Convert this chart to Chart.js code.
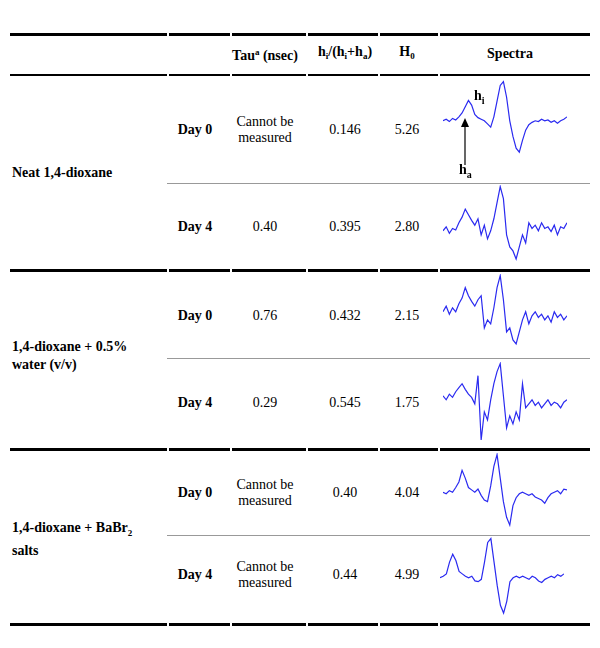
<!DOCTYPE html>
<html><head><meta charset="utf-8">
<script src="https://cdn.jsdelivr.net/npm/chart.js@4"></script>
<style>
body{margin:0;width:600px;height:648px;background:#fff;font-family:"Liberation Serif",serif;font-size:14px;color:#000;position:relative}
.a{position:absolute}
.t{position:absolute;transform:translate(-50%,-50%);text-align:center;white-space:nowrap;line-height:16px}
.b{font-weight:bold}
.l{position:absolute;left:10px;width:580px;background:#000}
.s{position:absolute;left:167px;width:423px;height:1px;background:#999}
.c{position:absolute;width:124px}
.g{position:absolute;width:2px;background:#fff}
</style></head><body>
<div class="l" style="top:33px;height:3px"></div>
<div class="l" style="top:74px;height:2px"></div>
<div class="l" style="top:269px;height:3px"></div>
<div class="l" style="top:448px;height:3px"></div>
<div class="l" style="top:623px;height:3px"></div>
<div class="s" style="top:183px"></div>
<div class="s" style="top:358px"></div>
<div class="s" style="top:535px"></div>
<div id="gaps"></div>
<div id="head"></div>
<div id="cells"></div>
<div class="c" style="left:443px;top:80px;height:80px"><canvas id="c0"></canvas></div>
<div class="c" style="left:443px;top:185px;height:82px"><canvas id="c1"></canvas></div>
<div class="c" style="left:443px;top:274px;height:82px"><canvas id="c2"></canvas></div>
<div class="c" style="left:443px;top:362px;height:82px"><canvas id="c3"></canvas></div>
<div class="c" style="left:443px;top:453px;height:80px"><canvas id="c4"></canvas></div>
<div class="c" style="left:440px;top:537px;height:80px"><canvas id="c5"></canvas></div>
<svg class="a" style="left:0;top:0" width="600" height="648">
<line x1="465" y1="165" x2="465" y2="124" stroke="#000" stroke-width="1.2"/>
<polygon points="461,127 469,127 465,118" fill="#000"/>
</svg>
<div class="a b" style="left:474px;top:88px">h<sub style="font-size:10px">i</sub></div>
<div class="a b" style="left:459px;top:162px">h<sub style="font-size:10px">a</sub></div>
<script>
const headers=["Tau<sup style='font-size:9px'>a</sup> (nsec)","h<sub style='font-size:9px'>i</sub>/(h<sub style='font-size:9px'>i</sub>+h<sub style='font-size:9px'>a</sub>)","H<sub style='font-size:9px'>0</sub>","Spectra"];
const samples=["Neat 1,4-dioxane","1,4-dioxane + 0.5%<br>water (v/v)","1,4-dioxane + BaBr<sub style='font-size:9px'>2</sub><br>salts"];
const days=["Day 0","Day 4","Day 0","Day 4","Day 0","Day 4"];
const tau=["Cannot be<br>measured","0.40","0.76","0.29","Cannot be<br>measured","Cannot be<br>measured"];
const ratio=["0.146","0.395","0.432","0.545","0.40","0.44"];
const h0=["5.26","2.80","2.15","1.75","4.04","4.99"];
const spectra=[
[50,52,49,53,51,55,60,68,76,70,58,54,52,50,46,42,55,75,95,100,80,50,30,15,10,25,38,45,48,50,49,52,50,51,48,50,47,50,52,55],
[45,50,42,48,46,55,62,72,65,58,52,60,40,52,35,45,60,80,100,85,40,25,20,10,25,40,30,55,48,52,45,55,48,50,44,52,40,50,48,55],
[55,62,52,60,55,65,72,85,75,68,62,70,75,35,45,40,60,85,100,70,30,35,20,15,30,45,55,40,50,55,48,52,45,50,42,55,48,52,45,50],
[60,55,62,58,65,70,75,68,62,58,50,85,5,40,30,55,75,90,100,60,20,35,25,40,30,75,45,50,55,48,52,45,50,55,48,52,50,45,52,55],
[52,50,54,52,58,65,80,70,58,55,52,56,48,42,40,60,85,100,70,40,20,10,35,45,50,52,50,48,50,46,44,42,38,45,50,52,54,50,56,55],
[50,52,55,70,80,72,58,55,52,50,52,46,45,48,70,95,100,70,40,15,5,20,45,50,52,50,52,50,48,52,50,46,44,48,50,52,50,54,52,55]];
let gp='';[167,230,306,378,438].forEach(x=>[[33,3],[74,2],[269,3],[448,3],[623,3]].forEach(([y,hh])=>gp+=`<div class="g" style="left:${x}px;top:${y}px;height:${hh}px"></div>`));
document.getElementById('gaps').innerHTML=gp;
const hx=[265,345,407,510];
let h='';headers.forEach((t,i)=>h+=`<div class="t b" style="left:${hx[i]}px;top:54px">${t}</div>`);
document.getElementById('head').innerHTML=h;
const rowY=[130,227,316,403,493,575], grpY=[173,356,537];
let c='';
samples.forEach((s,i)=>c+=`<div class="a b" style="left:12px;top:${grpY[i]-9}px;transform:translateY(-${i?9:0}px);line-height:18px">${s}</div>`);
rowY.forEach((y,i)=>{
 c+=`<div class="t b" style="left:195px;top:${y}px">${days[i]}</div>`;
 c+=`<div class="t" style="left:265px;top:${y}px">${tau[i]}</div>`;
 c+=`<div class="t" style="left:345px;top:${y}px">${ratio[i]}</div>`;
 c+=`<div class="t" style="left:407px;top:${y}px">${h0[i]}</div>`;
});
document.getElementById('cells').innerHTML=c;
spectra.forEach((d,i)=>{
 new Chart(document.getElementById('c'+i),{type:'line',
  data:{labels:d.map((_,k)=>k),datasets:[{data:d,borderColor:'#2a2af0',borderWidth:1.2,pointRadius:0,tension:0}]},
  options:{responsive:true,maintainAspectRatio:false,animation:false,
   plugins:{legend:{display:false},tooltip:{enabled:false}},
   layout:{padding:0},
   scales:{x:{display:false},y:{display:false,min:0,max:102}}}});
});
</script>
</body></html>
